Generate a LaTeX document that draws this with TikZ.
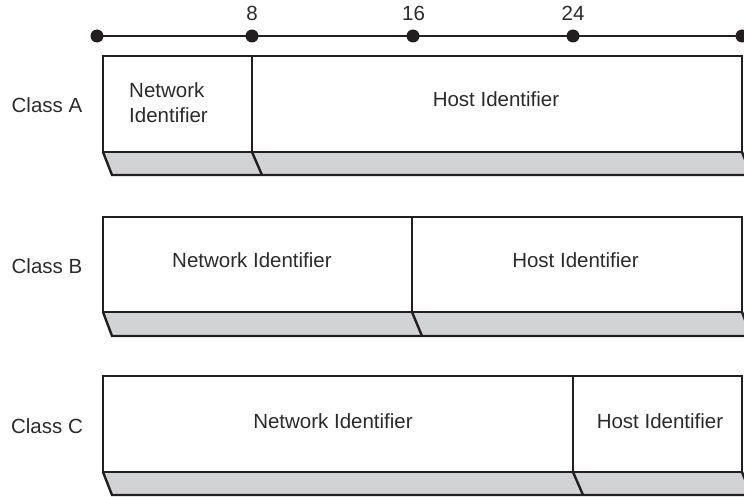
\documentclass[tikz,border=0pt]{standalone}
\usepackage{fontspec}
\setmainfont{Liberation Sans}
\definecolor{linec}{HTML}{231F20}
\definecolor{txtc}{HTML}{2B2B2B}
\definecolor{greyc}{HTML}{D1D3D4}
\begin{document}
\begin{tikzpicture}[x=1pt,y=-1pt,
  lw/.style={line width=2.4pt},
  cell/.style={draw=linec, lw, fill=white, inner sep=0pt, outer sep=0pt, anchor=north west},
  lbl/.style={text=txtc, font=\fontsize{20.5}{25}\selectfont, inner sep=0pt},
  strip/.style={fill=greyc},
  edge/.style={draw=linec, lw, line cap=butt},
  dot/.style={circle, fill=linec, minimum size=13pt, inner sep=0pt}]
\useasboundingbox (0,0) rectangle (744,497);
\clip (0,0) rectangle (744,497);

% scale
\node[dot] (d0) at (97,36) {};
\node[dot] (d8) at (252,36) {};
\node[dot] (d16) at (413,36) {};
\node[dot] (d24) at (573,36) {};
\node[dot] (d32) at (742,36) {};
\draw[edge] (d0.center) -- (d8.center) -- (d16.center) -- (d24.center) -- (d32.center);
\node[lbl, anchor=base] (t8) at (252,21) {8};
\node[lbl, anchor=base] (t16) at (413.5,21) {16};
\node[lbl, anchor=base] (t24) at (573,21) {24};

% ---- Class A ----
\fill[strip] (103,152) -- (112,175) -- (760,175) -- (760,152) -- cycle;
\node[cell, minimum width=149pt, minimum height=96pt] (an) at (103,56) {};
\node[cell, minimum width=490pt, minimum height=96pt] (ah) at (252,56) {};
\coordinate (asl) at (112,175);
\coordinate (asd) at (262,175);
\coordinate (asr) at (760,175);
\draw[edge] (an.south west) -- (asl) -- (asr);
\draw[edge] (an.south east) -- (asd);
\draw[edge] (ah.south east) -- (751,175);
\node[lbl, anchor=base] (ca) at (47,113) {Class A};
\node[lbl, anchor=base west, align=left] (ant) at (129,123) {Network\\Identifier};
\node[lbl, anchor=base] (aht) at (496,107) {Host Identifier};

% ---- Class B ----
\fill[strip] (103,312) -- (112,336) -- (760,336) -- (760,312) -- cycle;
\node[cell, minimum width=309pt, minimum height=95pt] (bn) at (103,217) {};
\node[cell, minimum width=330pt, minimum height=95pt] (bh) at (412,217) {};
\coordinate (bsl) at (112,336);
\coordinate (bsd) at (422,336);
\coordinate (bsr) at (760,336);
\draw[edge] (bn.south west) -- (bsl) -- (bsr);
\draw[edge] (bn.south east) -- (bsd);
\draw[edge] (bh.south east) -- (751,336);
\node[lbl, anchor=base] (cb) at (47,273) {Class B};
\node[lbl, anchor=base] (bnt) at (252,267) {Network Identifier};
\node[lbl, anchor=base] (bht) at (575.5,267) {Host Identifier};

% ---- Class C ----
\fill[strip] (103,472) -- (112,495) -- (760,495) -- (760,472) -- cycle;
\node[cell, minimum width=470pt, minimum height=96pt] (cn) at (103,376) {};
\node[cell, minimum width=169pt, minimum height=96pt] (ch) at (573,376) {};
\coordinate (csl) at (112,495);
\coordinate (csd) at (583,495);
\coordinate (csr) at (760,495);
\draw[edge] (cn.south west) -- (csl) -- (csr);
\draw[edge] (cn.south east) -- (csd);
\draw[edge] (ch.south east) -- (751,495);
\node[lbl, anchor=base] (cc) at (47,433) {Class C};
\node[lbl, anchor=base] (cnt) at (333,428) {Network Identifier};
\node[lbl, anchor=base] (cht) at (660,428) {Host Identifier};
\end{tikzpicture}
\end{document}
